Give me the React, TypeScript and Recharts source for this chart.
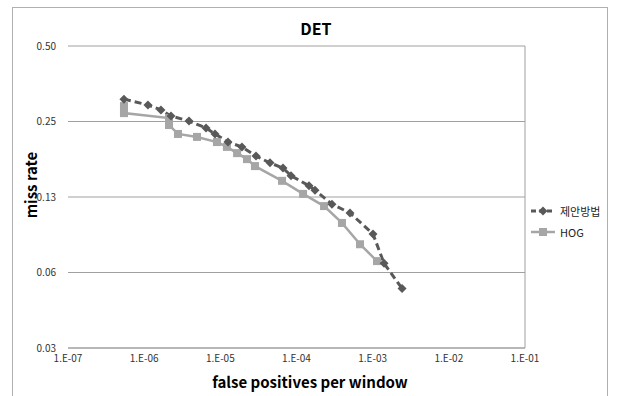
import React from "react";
import { LineChart, Line, XAxis, YAxis, CartesianGrid, ReferenceLine } from "recharts";

const xTicks = [1e-7, 1e-6, 1e-5, 1e-4, 1e-3, 1e-2, 1e-1];
const yTicks = [0.03125, 0.0625, 0.125, 0.25, 0.5];

const seriesNames = ["제안방법", "HOG"];

const fpA = [5.43e-7, 1.12e-6, 1.66e-6, 2.25e-6, 3.88e-6, 6.49e-6, 8.51e-6, 1.26e-5, 1.92e-5, 2.94e-5, 4.49e-5, 6.65e-5, 8.47e-5, 1.46e-4, 1.75e-4, 2.92e-4, 5.04e-4, 1.01e-3, 1.41e-3, 2.43e-3];
const mrA = [0.307, 0.291, 0.278, 0.263, 0.251, 0.2355, 0.223, 0.207, 0.198, 0.182, 0.171, 0.163, 0.152, 0.1385, 0.133, 0.117, 0.108, 0.089, 0.068, 0.054];

const fpB = [5.43e-7, 5.43e-7, 2.12e-6, 2.12e-6, 2.78e-6, 4.94e-6, 9.03e-6, 1.22e-5, 1.66e-5, 2.24e-5, 2.85e-5, 6.46e-5, 1.22e-4, 2.3e-4, 3.95e-4, 6.82e-4, 1.14e-3];
const mrB = [0.288, 0.27, 0.258, 0.242, 0.223, 0.217, 0.207, 0.198, 0.187, 0.177, 0.166, 0.145, 0.1286, 0.115, 0.0985, 0.081, 0.0694];

const dataA = fpA.map((x, i) => ({ x, y: mrA[i] }));
const dataB = fpB.map((x, i) => ({ x, y: mrB[i] }));

const COLOR_A = "#595959";
const COLOR_B = "#a6a6a6";
const GRID = "#a0a0a0";
const FONT = "'Noto Sans CJK KR', 'Noto Sans', sans-serif";

const Diamond = (props: any) => {
  const { cx, cy } = props;
  if (cx == null || cy == null) return null;
  const r = 4.5;
  return <path d={`M${cx},${cy - r}L${cx + r},${cy}L${cx},${cy + r}L${cx - r},${cy}Z`} fill={COLOR_A} />;
};

const Square = (props: any) => {
  const { cx, cy } = props;
  if (cx == null || cy == null) return null;
  const s = 4;
  return <rect x={cx - s} y={cy - s} width={2 * s} height={2 * s} fill={COLOR_B} />;
};

const xFmt = (v: number) => {
  const e = Math.round(-Math.log10(v));
  return `1.E-${String(e).padStart(2, "0")}`;
};
const yFmt = (v: number) => v.toFixed(2);

const EmptyTick = () => <g />;

export default function App() {
  return (
    <div style={{ position: "absolute", left: 0, top: 0, width: 618, height: 396, background: "#fff", fontFamily: FONT, overflow: "hidden" }}>
      <div style={{ position: "absolute", left: 12, top: 7, width: 596, height: 400, border: "1px solid #b0b0b0", boxSizing: "border-box" }} />
      <div style={{ position: "absolute", left: 0, top: 16, width: 632, textAlign: "center", fontSize: 16, fontWeight: 700, color: "#000" }}>DET</div>
      <div style={{ position: "absolute", left: 0, top: 371, width: 620, textAlign: "center", fontSize: 15, fontWeight: 700, color: "#000" }}>false positives per window</div>
      <div style={{ position: "absolute", left: 30, top: 185, width: 0, height: 0 }}>
        <div style={{ position: "absolute", transform: "translate(-50%, -50%) rotate(-90deg)", whiteSpace: "nowrap", fontSize: 15, fontWeight: 700, color: "#000" }}>miss rate</div>
      </div>
      <LineChart width={618} height={396} data={dataA} margin={{ top: 46, right: 93, bottom: 28, left: 0 }} style={{ position: "absolute", left: 0, top: 0 }}>
        <CartesianGrid vertical={false} stroke={GRID} />
        <XAxis
          xAxisId="bottom"
          dataKey="x"
          type="number"
          scale="log"
          domain={[1e-7, 1e-1]}
          ticks={xTicks}
          tickFormatter={xFmt}
          allowDataOverflow
          interval={0}
          height={20}
          tickLine={false}
          tickSize={0}
          tickMargin={7}
          axisLine={{ stroke: GRID }}
          tick={{ fontSize: 10, fill: "#333", fontFamily: FONT }}
        />
        <XAxis
          xAxisId="top"
          dataKey="x"
          orientation="top"
          type="number"
          scale="log"
          domain={[1e-7, 1e-1]}
          ticks={xTicks}
          allowDataOverflow
          interval={0}
          height={0}
          mirror
          tickSize={4}
          tickLine={{ stroke: GRID }}
          axisLine={{ stroke: GRID }}
          tick={EmptyTick}
        />
        <YAxis
          dataKey="y"
          type="number"
          scale="log"
          domain={[0.03125, 0.5]}
          ticks={yTicks}
          tickFormatter={yFmt}
          allowDataOverflow
          interval={0}
          width={68}
          tickLine={false}
          tickSize={0}
          tickMargin={12}
          axisLine={false}
          tick={{ fontSize: 10, fill: "#333", fontFamily: FONT }}
        />
        <ReferenceLine xAxisId="bottom" x={1e-1} stroke={GRID} />
        <Line
          xAxisId="bottom"
          data={dataB}
          dataKey="y"
          name={seriesNames[1]}
          stroke={COLOR_B}
          strokeWidth={2.5}
          dot={<Square />}
          activeDot={false}
          isAnimationActive={false}
        />
        <Line
          xAxisId="bottom"
          data={dataA}
          dataKey="y"
          name={seriesNames[0]}
          stroke={COLOR_A}
          strokeWidth={3}
          strokeDasharray="7 4"
          dot={<Diamond />}
          activeDot={false}
          isAnimationActive={false}
        />
      </LineChart>
      <div style={{ position: "absolute", left: 530, top: 202, fontSize: 11, color: "#222" }}>
        <div style={{ display: "flex", alignItems: "center", height: 18 }}>
          <svg width={26} height={12}>
            <line x1={1} y1={6} x2={25} y2={6} stroke={COLOR_A} strokeWidth={3} strokeDasharray="5 3" />
            <path d="M13,1.5L17.5,6L13,10.5L8.5,6Z" fill={COLOR_A} />
          </svg>
          <span style={{ marginLeft: 4 }}>{seriesNames[0]}</span>
        </div>
        <div style={{ display: "flex", alignItems: "center", height: 18, marginTop: 3 }}>
          <svg width={26} height={12}>
            <line x1={1} y1={6} x2={25} y2={6} stroke={COLOR_B} strokeWidth={2.5} />
            <rect x={9} y={2} width={8} height={8} fill={COLOR_B} />
          </svg>
          <span style={{ marginLeft: 4 }}>{seriesNames[1]}</span>
        </div>
      </div>
    </div>
  );
}
